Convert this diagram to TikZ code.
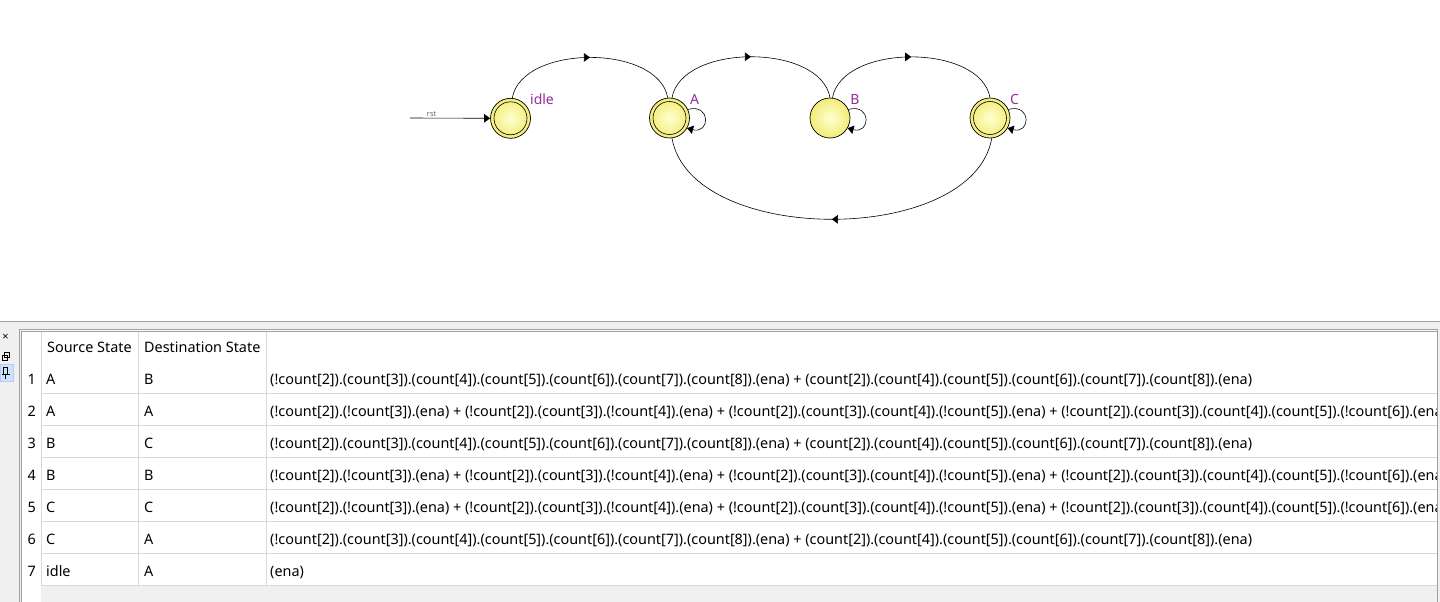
\documentclass[tikz,border=0pt]{standalone}
\usepackage{fontspec}
\setmainfont{Noto Sans}
\usetikzlibrary{arrows.meta,decorations.markings}

\definecolor{stateedge}{RGB}{242,236,118}
\definecolor{statecore}{RGB}{255,255,210}
\definecolor{statename}{RGB}{150,40,160}
\definecolor{panelgray}{RGB}{240,240,240}
\definecolor{gridgray}{RGB}{216,216,216}
\definecolor{framegray}{RGB}{160,160,160}
\definecolor{pinblue}{RGB}{204,228,247}

\newcommand{\leavecnd}{(!count[2]).(count[3]).(count[4]).(count[5]).(count[6]).(count[7]).(count[8]).(ena) + (count[2]).(count[4]).(count[5]).(count[6]).(count[7]).(count[8]).(ena)}
\newcommand{\holdcnd}{(!count[2]).(!count[3]).(ena) + (!count[2]).(count[3]).(!count[4]).(ena) + (!count[2]).(count[3]).(count[4]).(!count[5]).(ena) + (!count[2]).(count[3]).(count[4]).(count[5]).(!count[6]).(ena)}

\begin{document}
\begin{tikzpicture}[x=1pt,y=1pt,
    state/.style={circle,draw,line width=0.7pt,minimum size=40pt,inner sep=0pt,
        inner color=statecore,outer color=stateedge},
    statelbl/.style={text=statename,font=\fontsize{14}{16}\selectfont,inner sep=0pt},
    arrowtip/.style={-{Triangle[length=6pt,width=8.5pt]}},
    trans/.style={line width=0.6pt,postaction={decorate},
        decoration={markings,mark=at position 0.5 with {\arrow{Triangle[length=6pt,width=8.5pt]}}}},
    selfloop/.style={line width=0.6pt,arrowtip},
    cell/.style={anchor=base west,inner sep=0pt,font=\fontsize{14.4}{16}\selectfont},
    rownum/.style={anchor=base east,inner sep=0pt,font=\fontsize{14.4}{16}\selectfont}]
    \useasboundingbox (0,0) rectangle (1440,-602);

    % States
    \node[state] (idle) at (510.5,-118.3) {};
    \node[state] (A) at (669.5,-118) {};
    \node[state] (B) at (830,-118) {};
    \node[state] (C) at (990,-118) {};
    \foreach \s in {idle,A,C}
        \draw[line width=0.6pt] (\s) circle (16.5pt);

    % State names
    \node[statelbl] (idlename) at (542,-99) {idle};
    \node[statelbl] (Aname) at (694.5,-99.5) {A};
    \node[statelbl] (Bname) at (855,-99.5) {B};
    \node[statelbl] (Cname) at (1014.5,-99.5) {C};

    % Reset arrow
    \coordinate (rst) at (410,-118);
    \draw[arrowtip,line width=0.6pt] (rst) -- (idle.west)
        node[pos=0.27,above=1.5pt,inner sep=0pt,text=black!60,font=\fontsize{7.5}{8}\selectfont] (rstname) {rst};

    % Transitions
    \draw[trans] (idle.85) to[out=80,in=100,looseness=0.9] (A.95);
    \draw[trans] (A.83) to[out=80,in=100,looseness=0.9] (B.north);
    \draw[trans] (B.83) to[out=80,in=100,looseness=0.9] (C.north);
    \draw[trans] (C.-85) to[out=-100,in=-80,looseness=0.88] (A.-83);
    \foreach \s in {A,B,C}
        \draw[selfloop] (\s.25) .. controls +(15:24pt) and +(-15:24pt) .. (\s.-30);

    % Panel
    \fill[panelgray] (0,-321) rectangle (1440,-602);
    \draw[framegray] (0,-321) -- (1440,-321);
    \fill[white] (22,-329) rectangle (1436.5,-586);
    \fill[white] (22,-586) rectangle (41,-602);
    \draw[framegray] (19,-602) -- (19,-329) -- (1437,-329) -- (1437,-602);
    \draw[framegray] (21.5,-602) -- (21.5,-331.5) -- (1437,-331.5);

    % Toolbar
    \node[inner sep=0pt,font=\bfseries\fontsize{11}{11}\selectfont] (closeicon) at (5.5,-337.5) {×};
    \draw[line width=0.8pt] (4,-352) rectangle (9,-357);
    \draw[line width=0.8pt] (2,-355) rectangle (7,-360);
    \fill[pinblue] (0,-364.5) rectangle (13,-381);
    \draw[pinblue!70!blue!60] (0,-364.5) rectangle (13,-381);
    \draw[line width=0.8pt] (3.5,-367) rectangle (7.5,-374);
    \draw[line width=0.8pt] (1.5,-374) -- (9.5,-374);
    \draw[line width=0.8pt] (5.5,-374) -- (5.5,-379);

    % Grid
    \foreach \x in {41,138,266}
        \draw[gridgray] (\x,-331.5) -- (\x,-586);
    \foreach \r in {1,...,7}
        \draw[gridgray] (41,-361.5-32*\r) -- (1436.5,-361.5-32*\r);

    % Header
    \node[cell] (srchead) at (47,-352) {Source State};
    \node[cell] (dsthead) at (144,-352) {Destination State};

    % Rows
    \begin{scope}
        \clip (266,-331.5) rectangle (1436.5,-586);
        \foreach \n/\src/\dst/\cnd in {1/A/B/\leavecnd,2/A/A/\holdcnd,3/B/C/\leavecnd,
            4/B/B/\holdcnd,5/C/C/\holdcnd,6/C/A/\leavecnd,7/idle/A/(ena)}
            \node[cell] (cnd\n) at (270,-384-32*\n+32) {\cnd};
    \end{scope}
    \foreach \n/\src/\dst in {1/A/B,2/A/A,3/B/C,4/B/B,5/C/C,6/C/A,7/idle/A} {
        \node[rownum] (num\n) at (36,-384-32*\n+32) {\n};
        \node[cell] (src\n) at (46,-384-32*\n+32) {\src};
        \node[cell] (dst\n) at (144,-384-32*\n+32) {\dst};
    }
\end{tikzpicture}
\end{document}
